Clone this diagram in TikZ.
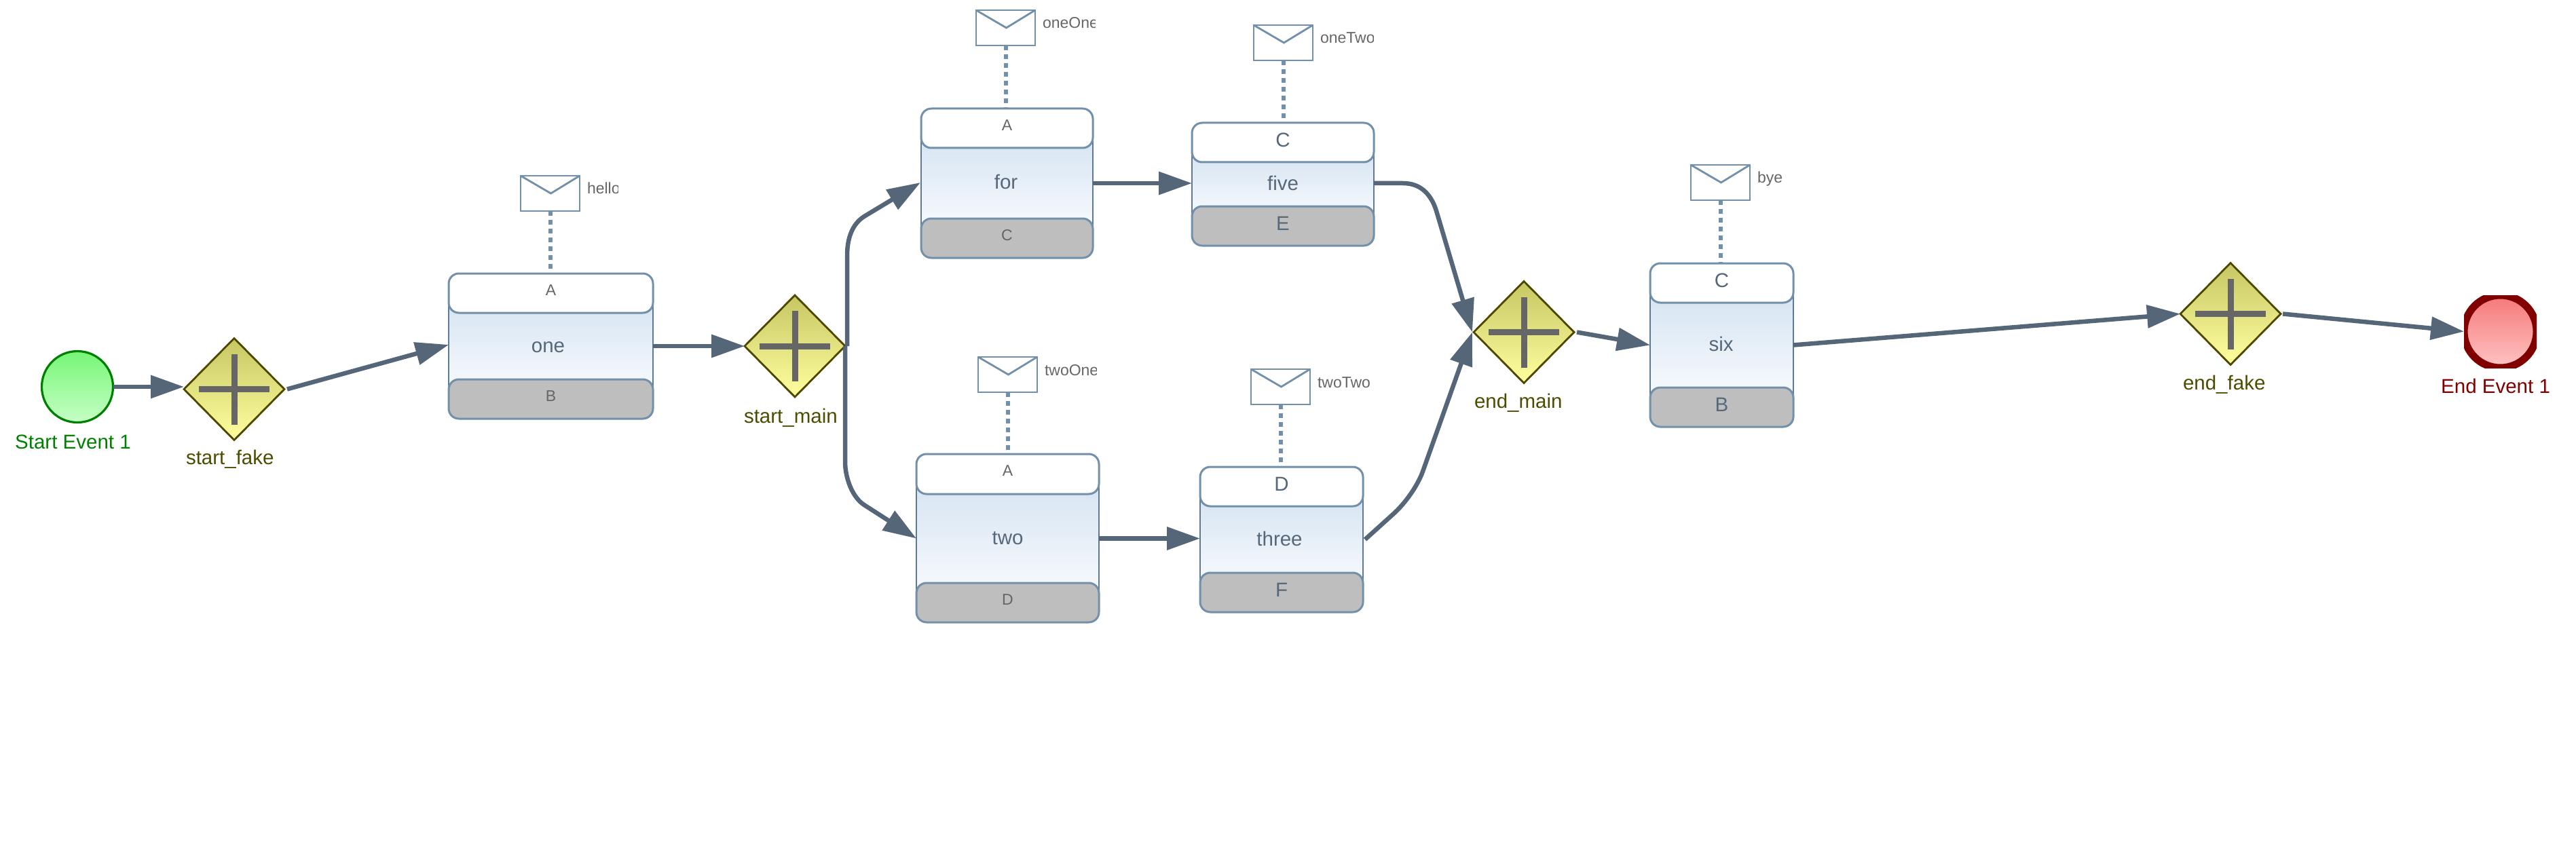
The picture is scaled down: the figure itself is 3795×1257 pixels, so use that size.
\documentclass[tikz,border=0pt]{standalone}
\usepackage{fontspec}
\setmainfont{Liberation Sans}
\usetikzlibrary{arrows.meta,shapes.geometric}
\definecolor{flow}{HTML}{546678}
\definecolor{edgeblue}{HTML}{7390AB}
\definecolor{sideblue}{HTML}{5E7A94}
\definecolor{bodytop}{HTML}{D6E4F2}
\definecolor{bodybot}{HTML}{F7FAFD}
\definecolor{footgray}{HTML}{BEBEBE}
\definecolor{gray6}{HTML}{666666}
\definecolor{slate}{HTML}{56687A}
\definecolor{gwtop}{HTML}{C6C663}
\definecolor{gwbot}{HTML}{FFFF9F}
\definecolor{gwline}{HTML}{4D4700}
\definecolor{gwtext}{HTML}{4D4D00}
\definecolor{sttop}{HTML}{76F576}
\definecolor{stbot}{HTML}{C6FFC6}
\definecolor{stline}{HTML}{008000}
\definecolor{entop}{HTML}{F57878}
\definecolor{enbot}{HTML}{FFC4C4}
\definecolor{enline}{HTML}{800000}
\newcommand{\bigf}{\fontsize{29.5pt}{32pt}\selectfont}
\newcommand{\smallf}{\fontsize{23pt}{26pt}\selectfont}
\tikzset{
  x=1pt,y=-1pt,
  flowline/.style={draw=flow,line width=6.5pt,-{Triangle[length=49pt,width=33pt]}},
  assoc/.style={draw=edgeblue,line width=6pt,dash pattern=on 7pt off 6pt},
  gatewaynode/.style={diamond,aspect=1,inner sep=0pt,outer sep=0pt,minimum width=148pt,minimum height=150pt,draw=gwline,line width=2.8pt,top color=gwtop,bottom color=gwbot},
  crossbar/.style={draw=gray6,line width=9pt},
  gwlabel/.style={anchor=base west,inner sep=0pt,outer sep=0pt,font=\bigf,text=gwtext},
  startnode/.style={circle,inner sep=0pt,outer sep=0pt,minimum size=105pt,draw=stline,line width=3.2pt,top color=sttop,bottom color=stbot},
  endnode/.style={circle,inner sep=0pt,outer sep=0pt,minimum size=107pt,draw=enline,line width=11pt,top color=entop,bottom color=enbot},
  taskbody/.style={rectangle,inner sep=0pt,outer sep=0pt,draw=sideblue,line width=2.5pt,top color=bodytop,bottom color=bodybot,font=\bigf,text=slate,text height=24pt,text depth=6pt},
  taskhead/.style={rectangle,rounded corners=15pt,inner sep=0pt,outer sep=0pt,draw=edgeblue,line width=3pt,fill=white},
  taskfoot/.style={rectangle,rounded corners=15pt,inner sep=0pt,outer sep=0pt,draw=edgeblue,line width=3pt,fill=footgray},
  capsmall/.style={inner sep=0pt,font=\smallf,text=gray6,text height=20pt,text depth=13.6pt},
  capbig/.style={inner sep=0pt,font=\bigf,text=slate,text height=22pt,text depth=9.2pt},
  envnode/.style={rectangle,inner sep=0pt,outer sep=0pt,minimum width=87pt,minimum height=52pt,draw=edgeblue,line width=2.8pt,fill=white},
  envflap/.style={draw=edgeblue,line width=2.8pt},
  envlabel/.style={anchor=base west,inner sep=0pt,outer sep=0pt,font=\smallf,text=gray6},
}
% name, cx, cy, label x, label baseline, label text
\newcommand{\gateway}[6]{%
  \node[gatewaynode] (#1) at (#2,#3) {};
  \draw[crossbar] ([xshift=-52pt]#1.center) -- ([xshift=52pt]#1.center);
  \draw[crossbar] ([yshift=-52pt]#1.center) -- ([yshift=52pt]#1.center);
  \node[gwlabel] (#1-label) at (#4,#5) {#6};
}
% name, L, R, T, header bottom, footer top, B, body text
\newcommand{\taskbox}[8]{%
  \node[taskbody,minimum width={(#3-#2)*1pt},minimum height={(#6-#5+30)*1pt}] (#1) at ({(#2+#3)/2},{(#5+#6)/2}) {#8};
  \node[taskhead,minimum width={(#3-#2)*1pt},minimum height={(#5-#4)*1pt}] (#1-head) at ({(#2+#3)/2},{(#4+#5)/2}) {};
  \node[taskfoot,minimum width={(#3-#2)*1pt},minimum height={(#7-#6)*1pt}] (#1-foot) at ({(#2+#3)/2},{(#6+#7)/2}) {};
}
% name, style, header text, footer text
\newcommand{\taskcaps}[4]{%
  \node[#2] (#1-headtext) at (#1-head.center) {#3};
  \node[#2] (#1-foottext) at (#1-foot.center) {#4};
}
% name, L, T, task, label text, label clip width
\newcommand{\envelope}[6]{%
  \node[envnode] (#1) at ({#2+43.5},{#3+26}) {};
  \draw[envflap] (#1.north west) -- ({#2+44.5},{#3+26}) -- (#1.north east);
  \draw[assoc] (#1.south) -- (#1.south |- #4-head.north);
  \begin{scope}
    \clip ({#2+98},{#3}) rectangle ({#2+98+#6},{#3+45});
    \node[envlabel] (#1-label) at ({#2+98},{#3+27}) {#5};
  \end{scope}
}
\begin{document}
\begin{tikzpicture}
\useasboundingbox (0,0) rectangle (3795,1257);
\fill[white] (0,0) rectangle (3795,1257);

% tasks
\taskbox{one}{661}{962}{403}{461}{559}{617}{one\kern8pt}
\taskcaps{one}{capsmall}{A}{B}
\taskbox{taskfor}{1357}{1610}{160}{218}{322}{380}{for\kern3pt}
\taskcaps{taskfor}{capsmall}{A}{C}
\taskbox{five}{1756}{2024}{181}{239}{304}{362}{five}
\taskcaps{five}{capbig}{C}{E}
\taskbox{two}{1350}{1619}{669}{728}{859}{917}{two}
\taskcaps{two}{capsmall}{A}{D}
\taskbox{three}{1768}{2008}{688}{746}{844}{902}{three\kern6pt}
\taskcaps{three}{capbig}{D}{F}
\taskbox{six}{2431}{2642}{388}{446}{571}{629}{six\kern2pt}
\taskcaps{six}{capbig}{C}{B}

% envelopes
\envelope{envone}{767}{259}{one}{hello}{45.5}
\envelope{envfor}{1438}{15}{taskfor}{oneOne}{77}
\envelope{envfive}{1847}{37}{five}{oneTwo}{78}
\envelope{envtwo}{1441}{526}{two}{twoOne}{76}
\envelope{envthree}{1843}{544}{three}{twoTwo}{100}
\envelope{envsix}{2491}{243}{six}{bye}{100}

% gateways
\gateway{startfake}{345}{573.5}{274}{684}{start\_fake}
\gateway{startmain}{1171}{510}{1096}{623}{start\_main}
\gateway{endmain}{2245}{489.5}{2172}{601}{end\_main}
\gateway{endfake}{3286}{462.5}{3216}{574}{end\_fake}

% events
\node[startnode] (start) at (114,570) {};
\node[anchor=base west,inner sep=0pt,font=\bigf,text=stline] (start-label) at (22,661) {Start Event 1};
\begin{scope}
  \clip (3630,435) rectangle (3737,542);
  \node[endnode] (endevent) at (3683.5,488.5) {};
\end{scope}
\node[anchor=base west,inner sep=0pt,font=\bigf,text=enline] (endevent-label) at (3596,579) {End Event 1};

% connectors
\draw[flowline] (start.east) -- (start.east -| startfake.west);
\draw[flowline] ([xshift=4pt]startfake.east) -- ([yshift=2pt]one.west);
\draw[flowline] (one.east) -- (one.east -| startmain.west);
\draw[flowline] ([xshift=3pt]startmain.east) -- (1248,377) .. controls (1248,350) and (1256,330) .. (1273,319) -- ([xshift=-1pt,yshift=1pt]taskfor.west);
\draw[flowline] (startmain.east) -- (1245,680) .. controls (1245,705) and (1256,733) .. (1273,744) -- (two.west);
\draw[flowline] (taskfor.east) -- (taskfor.east -| five.west);
\draw[flowline] (two.east) -- (two.east -| three.west);
\draw[flowline] ([yshift=1.5pt]five.east) -- (2067,270) .. controls (2095,270) and (2110,289) .. (2117,314) -- ([xshift=-2pt]endmain.west);
\draw[flowline] ([xshift=3pt]three.east) -- (2052,758) .. controls (2069,743) and (2089,716) .. (2097,692) -- ([xshift=-2pt]endmain.west);
\draw[flowline] ([xshift=4pt]endmain.east) -- (six.west);
\draw[flowline] (six.east) -- (endfake.west);
\draw[flowline] ([xshift=3pt]endfake.east) -- (endevent.west);
\end{tikzpicture}
\end{document}
